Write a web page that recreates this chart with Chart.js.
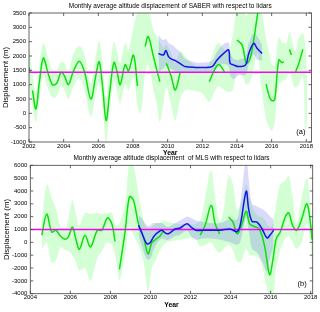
<!DOCTYPE html>
<html>
<head>
<meta charset="utf-8">
<script src="https://cdn.jsdelivr.net/npm/chart.js@4.4.1/dist/chart.umd.min.js"></script>
<style>
body{margin:0;background:#fff;}
#wrap{position:relative;width:320px;height:312px;overflow:hidden;}
.panel{position:absolute;left:0;width:320px;}
#pa{top:0;height:158px;}
#pb{top:150px;height:162px;}
</style>
</head>
<body>
<div id="wrap">
  <div class="panel" id="pa"><canvas id="chartA" width="320" height="158"></canvas></div>
  <div class="panel" id="pb"><canvas id="chartB" width="320" height="162"></canvas></div>
</div>
<script>
// ---- panel (a): SABER ----
const saberT = [2002.0,2002.06,2002.12,2002.2,2002.4,2002.6,2002.83,2003.1,2003.35,2003.6,2003.85,2004.05,2004.27,2004.55,2004.9,2005.2,2005.57,2005.85,2006.05,2006.25,2006.45,2006.65,2006.9,2007.1,2007.26,2007.55,2007.74,2008.03,2008.26,2008.45,2008.7,2008.88,2009.18,2009.38,2009.55,2009.75,2009.92,2010.2,2010.44,2010.73,2011.0,2011.5,2012.0,2012.4,2012.7,2012.95,2013.28,2013.5,2013.75,2014.0,2014.3,2014.54,2014.75,2014.95,2015.1,2015.22,2015.4,2015.68,2015.87,2016.03,2016.18,2016.41,2016.6,2016.7,2016.85,2017.03,2017.14,2017.25,2017.38,2017.55,2017.8,2017.95,2018.05];
const saberMean = [1600,1450,null,800,150,1100,1930,1400,1000,1050,1430,1300,1000,1450,1820,1450,500,1300,1800,900,-250,700,1770,1400,1000,1700,1480,2030,950,null,2330,2680,1980,1500,1100,null,1750,1300,815,1450,null,null,null,1100,1510,1700,1450,null,null,2560,2380,1750,1900,2500,3100,3600,null,1020,580,440,490,1860,1770,1800,null,2230,2035,null,1450,1700,2230,null,null];
const saberLo = [1000,850,500,200,-300,500,1350,850,550,600,950,800,500,900,1250,800,-100,650,1100,250,-1000,50,1150,700,350,1000,800,1250,250,0,1400,1700,800,300,-300,300,900,300,-250,500,800,800,700,400,750,950,800,750,800,1450,1300,1000,1100,1500,2000,2100,900,-200,-500,-600,-300,1000,1100,1150,1200,1500,1300,1000,900,1000,1300,-700,-100];
const saberHi = [2300,2150,1800,1400,700,1700,2450,1950,1500,1500,1800,1750,1450,2050,2350,2050,1050,2000,2550,1700,550,1450,2500,2100,1750,2450,2200,3000,3500,3600,3600,3600,2900,2700,2500,2300,2400,2100,1750,2200,2000,1700,1550,1750,2250,2450,2200,2150,2700,3600,3600,3400,3600,3600,3600,3600,3600,2600,2100,1700,1650,2650,2500,2450,2450,2850,2650,2350,2200,2600,2800,2300,1200];
const lidarAT = [2009.47,2009.62,2009.76,2009.9,2010.05,2010.25,2010.44,2010.83,2011.0,2011.6,2012.0,2012.56,2012.85,2013.23,2013.52,2013.6,2013.8,2014.1,2014.5,2014.68,2014.97,2015.16,2015.45];
const lidarAMean = [2090,2050,2035,2190,1980,1880,1840,1690,1630,1600,1600,1630,1860,2090,2210,1750,1690,1630,1690,2090,2440,2270,2090];
const lidarALo = [1420,1500,1560,1650,1580,1530,1480,1400,1420,1430,1430,1430,1580,1720,1650,1350,1200,1330,1350,1700,2050,1880,1850];
const lidarAHi = [2750,2620,2550,2600,2450,2380,2300,2050,1900,1770,1770,1830,2150,2420,2460,2150,1900,1870,2000,2450,2800,2700,2380];
const refA = [1430];
const xTicksA = [2002,2004,2006,2008,2010,2012,2014,2016,2018];
const yTicksA = [-1000,-500,0,500,1000,1500,2000,2500,3000,3500];

// ---- panel (b): MLS ----
const mlsT = [2004.57,2004.82,2005.07,2005.28,2005.5,2005.73,2005.9,2006.1,2006.28,2006.45,2006.73,2007.0,2007.35,2007.57,2007.85,2008.07,2008.23,2008.35,2008.45,2008.73,2008.95,2009.15,2009.4,2009.65,2009.88,2010.07,2010.32,2010.48,2010.65,2010.8,2011.5,2012.2,2012.48,2012.73,2013.03,2013.23,2013.45,2013.65,2013.9,2014.12,2014.32,2014.52,2014.78,2014.95,2015.15,2015.4,2015.57,2015.73,2015.95,2016.12,2016.28,2016.48,2016.73,2016.9,2017.1,2017.3,2017.55,2017.8,2017.95,2018.07];
const mlsMean = [550,2200,800,940,500,240,420,1190,240,-540,550,-360,940,940,1900,1450,80,null,-2100,800,3550,3270,1450,420,-900,-30,300,500,940,null,null,null,550,1330,2880,1450,670,null,1970,1580,670,1190,2420,1450,1250,1090,520,-540,-2520,-1280,280,800,1970,2300,1300,940,1800,3010,1970,200];
const mlsLo = [-600,0,-1600,-1400,-400,-600,-700,-1000,-1500,-2200,-2000,-3000,-1200,-700,0,-200,-1000,-2000,-3000,-1000,1200,600,-200,-1500,-3800,-2000,-1200,-600,-200,0,200,300,-300,-200,0,-500,-800,-500,-200,-600,-1500,-1500,-500,-1000,-1000,-1200,-1800,-3000,-4200,-4200,-2000,-600,300,500,0,-500,0,1500,500,-1800];
const mlsHi = [1500,4500,3500,2600,1300,1000,1800,3300,2200,1300,2300,2200,2300,2200,2300,2300,1400,1300,1400,3000,6200,6000,3800,1800,1000,1200,1500,1500,1700,1600,1400,1400,1700,3500,5600,3500,1600,2500,5200,4500,2500,3000,4500,3500,2500,2000,2000,1700,1200,1500,3000,4500,4800,5200,3500,1500,3500,5000,3500,1000];
const lidarBT = [2009.4,2009.55,2009.82,2009.98,2010.15,2010.35,2010.57,2010.75,2010.9,2011.23,2011.48,2011.82,2012.03,2012.27,2012.6,2013.0,2013.48,2013.98,2014.32,2014.48,2014.78,2014.9,2015.07,2015.32,2015.57,2015.82,2015.98,2016.15];
const lidarBMean = [1330,800,-110,-30,420,750,940,720,670,1040,1120,1450,1190,940,940,940,940,1040,830,1330,3980,2620,1640,1580,1060,340,590,940];
const lidarBLo = [600,-200,-1300,-1300,-600,0,300,200,200,500,600,900,500,200,300,300,200,0,-200,0,2000,1000,-500,-800,-1500,-2300,-1200,-300];
const lidarBHi = [2100,1900,1300,1300,1500,1500,1500,1300,1200,1500,1700,2000,1900,1700,1600,1500,1500,1800,1800,3000,6500,5000,3000,2800,2600,2300,2000,1800];
const refB = [1000];
const xTicksB = [2004,2006,2008,2010,2012,2014,2016,2018];
const yTicksB = [-4000,-3000,-2000,-1000,0,1000,2000,3000,4000,5000,6000];

const FONT = '"Liberation Sans", Arial, sans-serif';
const GREEN = 'rgb(10,225,10)';
const GREEN_BAND = 'rgba(0,255,0,0.17)';
const BLUE = 'rgb(20,20,235)';
const BLUE_BAND = 'rgba(70,70,235,0.2)';
const MAGENTA = 'rgb(255,0,255)';

Chart.defaults.font.family = FONT;
Chart.defaults.color = '#000';

function pts(xs, ys) {
    return xs.map((x, i) => ({x: x, y: ys[i]}));
}

// matlab style box with inward ticks + panel tag
const boxTicks = {
    id: 'boxTicks',
    afterDatasetsDraw(chart, args, opts) {
        const {ctx, chartArea: a, scales: {x, y}} = chart;
        ctx.save();
        ctx.strokeStyle = '#404040';
        ctx.lineWidth = 0.8;
        ctx.strokeRect(a.left, a.top, a.right - a.left, a.bottom - a.top);
        ctx.beginPath();
        x.ticks.forEach(t => {
            const px = x.getPixelForValue(t.value);
            ctx.moveTo(px, a.bottom); ctx.lineTo(px, a.bottom - 3);
            ctx.moveTo(px, a.top); ctx.lineTo(px, a.top + 3);
        });
        y.ticks.forEach(t => {
            const py = y.getPixelForValue(t.value);
            ctx.moveTo(a.left, py); ctx.lineTo(a.left + 3, py);
            ctx.moveTo(a.right, py); ctx.lineTo(a.right - 3, py);
        });
        ctx.stroke();
        ctx.font = '7.5px ' + FONT;
        ctx.fillStyle = '#000';
        ctx.textAlign = 'right';
        ctx.textBaseline = 'middle';
        ctx.fillText(opts.tag, a.right - 6, a.bottom - 10);
        ctx.restore();
    }
};

function makePanel(canvasId, p) {
    const line = (data, color, order) => ({
        data: data, borderColor: color, borderWidth: 1.5, pointRadius: 0,
        tension: 0.35, spanGaps: false, fill: false, order: order, clip: 0
    });
    const band = (data, color, order, fill) => ({
        data: data, borderWidth: 0, borderColor: 'rgba(0,0,0,0)', backgroundColor: color,
        pointRadius: 0, tension: 0.35, fill: fill, order: order, clip: 0
    });
    const datasets = [
        line(pts(p.lT, p.lMean), BLUE, 0),
        Object.assign(line(pts([p.xMin, p.xMax], [p.ref[0], p.ref[0]]), MAGENTA, 1), {tension: 0}),
        line(pts(p.t, p.mean), GREEN, 2),
        band(pts(p.lT, p.lHi), BLUE_BAND, 3, '+1'),
        band(pts(p.lT, p.lLo), BLUE_BAND, 4, false),
        band(pts(p.t, p.hi), GREEN_BAND, 5, '+1'),
        band(pts(p.t, p.lo), GREEN_BAND, 6, false)
    ];
    return new Chart(document.getElementById(canvasId), {
        type: 'line',
        data: {datasets: datasets},
        options: {
            responsive: false,
            animation: false,
            events: [],
            layout: {padding: p.pad},
            plugins: {
                legend: {display: false},
                tooltip: {enabled: false},
                title: {
                    display: true, text: p.title, fullSize: false, color: '#000',
                    font: {size: 6.5, weight: 'normal'}, padding: p.titlePad
                },
                boxTicks: {tag: p.tag}
            },
            scales: {
                x: {
                    type: 'linear', min: p.xMin, max: p.xMax,
                    afterBuildTicks: s => { s.ticks = p.xTicks.map(v => ({value: v})); },
                    afterFit: s => { s.height = p.xH; },
                    grid: {display: false, drawTicks: false},
                    border: {display: false},
                    ticks: {font: {size: 6}, padding: 0.5, maxRotation: 0, autoSkip: false, callback: v => String(v)},
                    title: {display: true, text: 'Year', font: {size: 6.8, weight: 'bold'}, padding: 0}
                },
                y: {
                    type: 'linear', min: p.yMin, max: p.yMax,
                    afterBuildTicks: s => { s.ticks = p.yTicks.map(v => ({value: v})); },
                    afterFit: s => { s.width = p.yW; },
                    grid: {display: false, drawTicks: false},
                    border: {display: false},
                    ticks: {font: {size: 6}, padding: 3, autoSkip: false, callback: v => String(v)},
                    title: {display: true, text: 'Displacement (m)', font: {size: 7.8}, padding: {top: p.yTitlePad, bottom: 0}}
                }
            }
        },
        plugins: [boxTicks]
    });
}

makePanel('chartA', {
    title: 'Monthly average altitude displacement of SABER with respect to lidars', tag: '(a)',
    t: saberT, mean: saberMean, lo: saberLo, hi: saberHi,
    lT: lidarAT, lMean: lidarAMean, lLo: lidarALo, lHi: lidarAHi, ref: refA,
    xMin: 2002, xMax: 2018.3, yMin: -1000, yMax: 3500, xTicks: xTicksA, yTicks: yTicksA,
    pad: {left: 0, right: 8.5, top: 0, bottom: 1.1}, titlePad: {top: 2.1, bottom: 3.1},
    xH: 14.9, yW: 29, yTitlePad: 1.3
});

makePanel('chartB', {
    title: 'Monthly average altitude displacement  of MLS with respect to lidars', tag: '(b)',
    t: mlsT, mean: mlsMean, lo: mlsLo, hi: mlsHi,
    lT: lidarBT, lMean: lidarBMean, lLo: lidarBLo, lHi: lidarBHi, ref: refB,
    xMin: 2004, xMax: 2018.1, yMin: -4000, yMax: 6000, xTicks: xTicksB, yTicks: yTicksB,
    pad: {left: 0, right: 7.3, top: 0, bottom: 3.1}, titlePad: {top: 4.4, bottom: 3.1},
    xH: 15.2, yW: 30.3, yTitlePad: 2.6
});
</script>
</body>
</html>
